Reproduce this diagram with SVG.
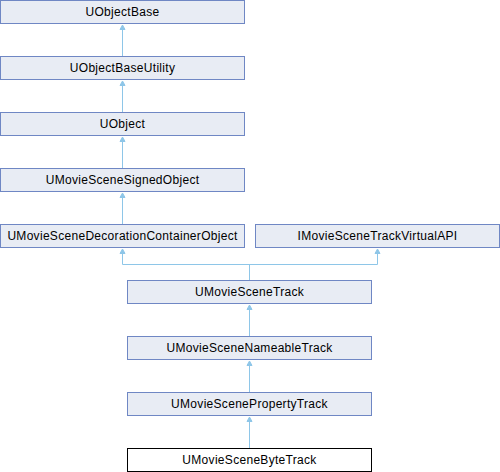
<svg xmlns="http://www.w3.org/2000/svg" width="500" height="472" viewBox="0 0 500 472">
<defs>
<style>
.n rect{fill:#E8ECF4;stroke:#6F87C4;stroke-width:1}
.n.cur rect{fill:#FFFFFF;stroke:#000000}
.n text{font-family:"Liberation Sans",Arial,sans-serif;font-size:12px;letter-spacing:0.3px;fill:#000;text-anchor:middle}
.e path{fill:none;stroke:#8EC6E8;stroke-width:1}
.e polygon{fill:#8EC6E8;stroke:#8EC6E8;stroke-width:1}
</style>
</defs>
<rect width="500" height="472" fill="#FFFFFF"/>
<g class="e" id="edges">
<path d="M122.5,30 V56.5"/><polygon points="122.5,25 120,29.5 125,29.5"/>
<path d="M122.5,86 V112.5"/><polygon points="122.5,81 120,85.5 125,85.5"/>
<path d="M122.5,142 V168.5"/><polygon points="122.5,137 120,141.5 125,141.5"/>
<path d="M122.5,198 V224.5"/><polygon points="122.5,193 120,197.5 125,197.5"/>
<path d="M122.5,254 V264.5 H377.5 V254"/><polygon points="122.5,249 120,253.5 125,253.5"/><polygon points="377.5,249 375,253.5 380,253.5"/>
<path d="M249.5,264.5 V280.5"/>
<path d="M249.5,310 V336.5"/><polygon points="249.5,305 247,309.5 252,309.5"/>
<path d="M249.5,366 V392.5"/><polygon points="249.5,361 247,365.5 252,365.5"/>
<path d="M249.5,422 V448.5"/><polygon points="249.5,417 247,421.5 252,421.5"/>
</g>
<g class="n" id="UObjectBase"><rect x="0.5" y="0.5" width="244" height="23"/><text x="122.5" y="16">UObjectBase</text></g>
<g class="n" id="UObjectBaseUtility"><rect x="0.5" y="56.5" width="244" height="23"/><text x="122.5" y="72">UObjectBaseUtility</text></g>
<g class="n" id="UObject"><rect x="0.5" y="112.5" width="244" height="23"/><text x="122.5" y="128">UObject</text></g>
<g class="n" id="UMovieSceneSignedObject"><rect x="0.5" y="168.5" width="244" height="23"/><text x="122.5" y="184">UMovieSceneSignedObject</text></g>
<g class="n" id="UMovieSceneDecorationContainerObject"><rect x="0.5" y="224.5" width="244" height="23"/><text x="122.5" y="240">UMovieSceneDecorationContainerObject</text></g>
<g class="n" id="IMovieSceneTrackVirtualAPI"><rect x="255.5" y="224.5" width="244" height="23"/><text x="377.5" y="240">IMovieSceneTrackVirtualAPI</text></g>
<g class="n" id="UMovieSceneTrack"><rect x="127.5" y="280.5" width="244" height="23"/><text x="249.5" y="296">UMovieSceneTrack</text></g>
<g class="n" id="UMovieSceneNameableTrack"><rect x="127.5" y="336.5" width="244" height="23"/><text x="249.5" y="352">UMovieSceneNameableTrack</text></g>
<g class="n" id="UMovieScenePropertyTrack"><rect x="127.5" y="392.5" width="244" height="23"/><text x="249.5" y="408">UMovieScenePropertyTrack</text></g>
<g class="n cur" id="UMovieSceneByteTrack"><rect x="127.5" y="448.5" width="244" height="23"/><text x="249.5" y="464">UMovieSceneByteTrack</text></g>
</svg>
